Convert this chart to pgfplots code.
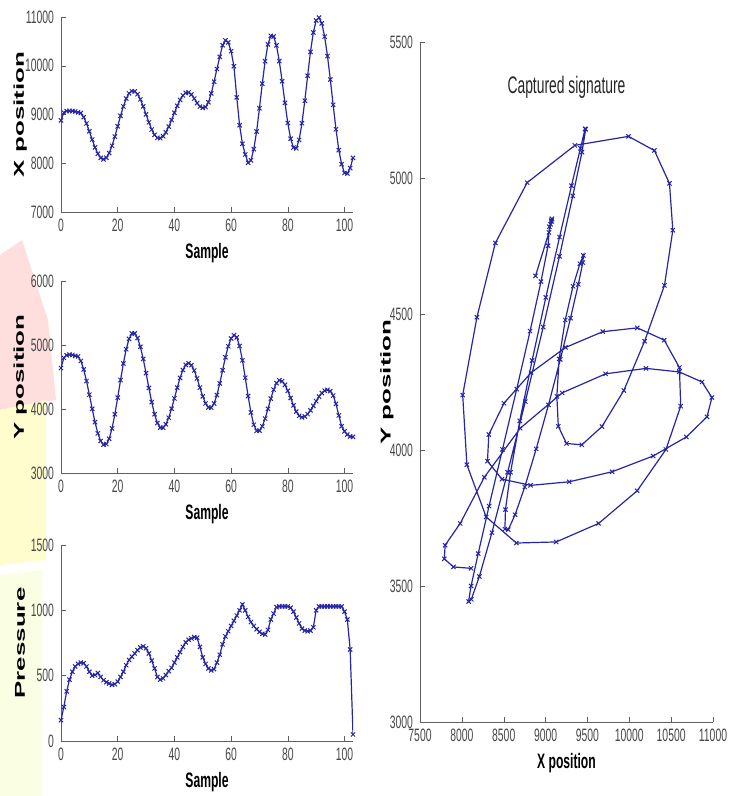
\documentclass[border=0pt]{standalone}
\usepackage{fontspec}
\setmainfont{Liberation Sans}[FakeStretch=0.58]
\newfontfamily\rotfont{Liberation Sans}
\usepackage{graphicx}
\usepackage{pgfplots}
\usepackage{pgfplotstable}
\pgfplotsset{compat=1.18}

\definecolor{sigblue}{RGB}{38,38,165}
\definecolor{axgray}{RGB}{95,95,95}
\definecolor{wmpink}{RGB}{255,222,222}
\definecolor{wmyellow}{RGB}{255,252,205}
\definecolor{wmpale}{RGB}{250,255,228}

% samples: x position, y position, pressure
\pgfplotstableread{
n X Y P
0 8880 4640 160
1 9040 4800 260
2 9070 4840 380
3 9075 4850 470
4 9070 4845 530
5 9060 4830 570
6 9045 4821 590
7 9030 4751 600
8 8945 4619 595
9 8815 4437 570
10 8655 4224 530
11 8485 4002 500
12 8325 3794 505
13 8195 3619 520
14 8110 3500 490
15 8080 3443 465
16 8113 3451 450
17 8209 3535 440
18 8359 3696 430
19 8547 3918 435
20 8758 4178 455
21 8972 4452 490
22 9166 4712 530
23 9325 4934 580
24 9435 5095 620
25 9479 5179 645
26 9473 5181 670
27 9416 5109 695
28 9310 4972 715
29 9167 4783 725
30 9003 4561 710
31 8839 4329 670
32 8692 4107 615
33 8582 3918 555
34 8521 3781 490
35 8514 3709 470
36 8554 3707 480
37 8636 3762 505
38 8751 3864 535
39 8888 4004 560
40 9035 4166 600
41 9176 4333 640
42 9298 4485 680
43 9391 4609 720
44 9445 4689 755
45 9452 4715 775
46 9410 4685 785
47 9328 4602 795
48 9235 4478 790
49 9162 4335 720
50 9135 4197 640
51 9152 4087 590
52 9250 4024 555
53 9433 4019 540
54 9673 4086 550
55 9935 4219 600
56 10183 4400 660
57 10420 4605 740
58 10520 4808 800
59 10480 4980 840
60 10300 5101 880
61 9990 5153 920
62 9350 5120 960
63 8780 4983 1000
64 8400 4761 1045
65 8180 4488 1000
66 8010 4202 950
67 8060 3946 910
68 8290 3754 880
69 8651 3658 855
70 9127 3662 835
71 9633 3730 820
72 10094 3850 815
73 10438 4002 850
74 10614 4161 930
75 10599 4303 975
76 10417 4404 1025
77 10096 4449 1030
78 9683 4435 1030
79 9238 4377 1030
80 8826 4284 1030
81 8503 4172 1020
82 8322 4057 990
83 8306 3959 945
84 8479 3893 900
85 8821 3870 860
86 9282 3883 845
87 9795 3920 840
88 10285 3978 845
89 10682 4048 870
90 10928 4122 1000
91 10987 4193 1030
92 10869 4250 1030
93 10597 4287 1030
94 10199 4300 1030
95 9717 4280 1030
96 9198 4210 1030
97 8697 4080 1030
98 8269 3900 1030
99 7980 3730 1030
100 7800 3650 990
101 7790 3600 930
102 7900 3570 700
103 8110 3565 50
}\sig

\pgfplotsset{
  sigaxis/.style={
    scale only axis,
    axis x line*=bottom, axis y line*=left,
    axis line style={axgray,-},
    tick align=inside,
    major tick length=2.5bp,
    tick style={axgray},
    tick label style={font=\fontsize{9}{9}\selectfont, text=black!72},
    /pgf/number format/assume math mode=true,
    /pgf/number format/set thousands separator={},
    scaled ticks=false,
    xlabel style={font=\fontsize{10.5}{10.5}\selectfont\bfseries, yshift=1bp},
  },
  timeaxis/.style={sigaxis, width=146bp, xmin=0, xmax=103,
    xtick={0,20,...,100}, xlabel={Sample},
    ylabel style={at={(axis description cs:-0.14,0.5)}, anchor=center, rotate=0}},
  sigline/.style={sigblue, line width=0.6bp, mark=x, mark size=1.5bp,
    mark options={solid, line width=0.5bp}},
}
\newcommand{\rlab}[1]{\scalebox{1}[0.55]{\rotfont\bfseries\fontsize{13}{13}\selectfont #1}}

\begin{document}
\begin{tikzpicture}
\path[use as bounding box] (0,0) rectangle (371bp,398bp);
% faint watermark at the left edge
\fill[wmpink] (0,270.5bp) -- (11bp,278bp) -- (24bp,238bp) -- (28bp,198bp) -- (15bp,196bp) -- (0,193bp) -- cycle;
\fill[wmyellow] (0,193bp) -- (15bp,196bp) -- (23bp,198bp) -- (23bp,118bp) -- (0,115.5bp) -- cycle;
\fill[wmpale] (0,110.5bp) -- (21bp,113bp) -- (21bp,0) -- (0,0) -- cycle;

\begin{axis}[timeaxis, at={(30.5bp,292bp)}, anchor=south west, height=97.5bp,
  ymin=7000, ymax=11000, ytick={7000,8000,...,11000}, ylabel={\rlab{X position}}]
\addplot[sigline] table[x=n, y=X] {\sig};
\end{axis}

\begin{axis}[timeaxis, at={(30.5bp,161.5bp)}, anchor=south west, height=96bp,
  ymin=3000, ymax=6000, ytick={3000,4000,...,6000}, ylabel={\rlab{Y position}}]
\addplot[sigline] table[x=n, y=Y] {\sig};
\end{axis}

\begin{axis}[timeaxis, at={(30.5bp,27.5bp)}, anchor=south west, height=98bp,
  ymin=0, ymax=1500, ytick={0,500,...,1500}, ylabel={\rlab{Pressure}}]
\addplot[sigline] table[x=n, y=P] {\sig};
\end{axis}

\begin{axis}[sigaxis, at={(210bp,37bp)}, anchor=south west, width=146.5bp, height=340bp,
  xmin=7500, xmax=11000, xtick={7500,8000,...,11000},
  ymin=3000, ymax=5500, ytick={3000,3500,...,5500},
  xlabel={X position}, ylabel={\rlab{Y position}},
  ylabel style={at={(axis description cs:-0.113,0.5)}, anchor=center, rotate=0}]
\addplot[sigline] table[x=X, y=Y] {\sig};
\node[font=\fontsize{12}{12}\selectfont, text=black!85] at (rel axis cs:0.5,0.934) {Captured signature};
\end{axis}
\end{tikzpicture}
\end{document}
